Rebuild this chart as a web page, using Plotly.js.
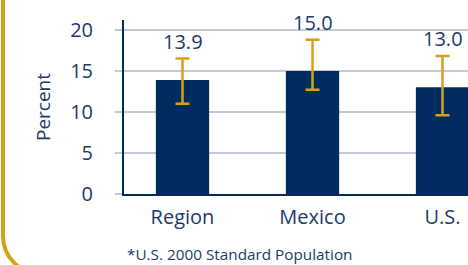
<!DOCTYPE html>
<html>
<head>
<meta charset="utf-8">
<script src="https://cdn.plot.ly/plotly-3.0.1.min.js"></script>
<style>
  html, body { margin: 0; padding: 0; background: #ffffff; overflow: hidden; }
  #wrap { position: relative; width: 468px; height: 265px; }
  #chart { position: absolute; left: 0; top: 0; width: 468px; height: 265px; }
  #frame { position: absolute; left: 1px; top: -40px; width: 600px; height: 316px;
           border: 4px solid #D6A11A; border-radius: 40px; box-sizing: border-box;
           pointer-events: none; z-index: 5; }
</style>
</head>
<body>
<div id="wrap">
  <div id="chart"></div>
  <div id="frame"></div>
</div>
<script>
const categories = ["Region", "Mexico", "U.S."];
const values = [13.9, 15.0, 13.0];
const upperCI = [16.5, 18.8, 16.8];
const lowerCI = [11.0, 12.7, 9.6];
const valueLabels = ["13.9", "15.0", "13.0"];
const yTicks = [0, 5, 10, 15, 20];
const footnote = "*U.S. 2000 Standard Population";

const navy = "#002B5E";
const textColor = "#1C3A6A";
const gold = "#D6A11A";
const grid = "#C3CAD6";
const font = "Open Sans, Noto Sans, sans-serif";

const trace = {
  type: "bar",
  x: categories,
  y: values,
  width: 0.41,
  marker: { color: navy },
  error_y: {
    type: "data",
    symmetric: false,
    array: upperCI.map((u, i) => u - values[i]),
    arrayminus: lowerCI.map((l, i) => values[i] - l),
    color: gold,
    thickness: 2.5,
    width: 7
  },
  hoverinfo: "skip"
};

const annotations = categories.map((c, i) => ({
  x: c, y: upperCI[i], xref: "x", yref: "y",
  text: valueLabels[i], showarrow: false,
  yanchor: "bottom", yshift: 2,
  font: { family: font, size: 20, color: textColor }
}));
annotations.push({
  xref: "paper", yref: "paper", x: 0.003, y: -0.345,
  xanchor: "left", yanchor: "middle",
  text: footnote, showarrow: false,
  font: { family: font, size: 15.3, color: textColor }
});

const layout = {
  width: 468, height: 265,
  margin: { l: 124, r: 0, t: 20, b: 71, pad: 0 },
  paper_bgcolor: "rgba(0,0,0,0)",
  plot_bgcolor: "rgba(0,0,0,0)",
  showlegend: false,
  font: { family: font, color: textColor },
  xaxis: {
    type: "category",
    range: [-0.45, 2.196],
    showline: true, linecolor: navy, linewidth: 2,
    showgrid: false, zeroline: false,
    ticks: "", ticklabelstandoff: 4,
    tickfont: { family: font, size: 20, color: textColor },
    fixedrange: true
  },
  yaxis: {
    range: [0, 21.2],
    tickvals: yTicks,
    ticktext: yTicks.map(String),
    showline: true, linecolor: navy, linewidth: 2,
    showgrid: true, gridcolor: grid, gridwidth: 2.5,
    zeroline: false,
    ticks: "outside", ticklen: 7, tickwidth: 2.5, tickcolor: grid,
    ticklabelstandoff: 18,
    tickfont: { family: font, size: 20, color: textColor },
    title: { text: "Percent", standoff: 14, font: { family: font, size: 19, color: textColor } },
    fixedrange: true
  },
  annotations: annotations
};

Plotly.newPlot("chart", [trace], layout, { displayModeBar: false, staticPlot: true });
</script>
</body>
</html>
